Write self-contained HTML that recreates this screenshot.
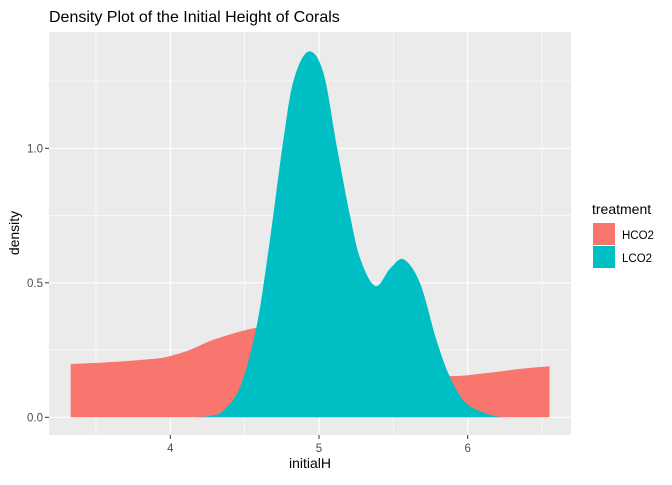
<!DOCTYPE html>
<html><head><meta charset="utf-8"><style>
body{margin:0;background:#fff;}
svg text{font-family:"Liberation Sans",sans-serif;}
</style></head><body>
<svg id="chart" width="672" height="480">
<text x="49" y="22" font-size="16" fill="#000">Density Plot of the Initial Height of Corals</text>
<rect x="49" y="32" width="522" height="403" fill="#ebebeb"/>
<g id="grid"></g>
<g id="areas"></g>
<g id="axes"></g>
<text x="310" y="468" font-size="14" text-anchor="middle" fill="#000">initialH</text>
<text transform="translate(19,233) rotate(-90)" font-size="14" text-anchor="middle" fill="#000">density</text>
<g>
<text x="592" y="214" font-size="14" fill="#000">treatment</text>
<rect x="593" y="223" width="22" height="22" fill="#f8766d"/>
<text x="622" y="239" font-size="11.5" fill="#000">HCO2</text>
<rect x="593" y="246" width="22" height="22" fill="#00bfc4"/>
<text x="622" y="262" font-size="11.5" fill="#000">LCO2</text>
</g>
</svg>
<script>
const xTicks=[4,5,6];
const yTicks=[0.0,0.5,1.0];
const yTickLabels=["0.0","0.5","1.0"];
const hcoX=[3.33,3.6,3.9,4.0,4.13,4.3,4.57,4.8,5.0,5.2,5.4,5.6,5.88,6.15,6.35,6.55];
const hcoY=[0.198,0.205,0.218,0.228,0.25,0.29,0.332,0.34,0.32,0.28,0.22,0.17,0.153,0.166,0.18,0.19];
const lcoX=[4.17,4.28,4.36,4.47,4.58,4.67,4.76,4.83,4.93,5.03,5.12,5.21,5.28,5.38,5.48,5.57,5.68,5.79,5.88,5.99,6.15,6.25];
const lcoY=[0,0.006,0.027,0.114,0.337,0.66,1.03,1.254,1.36,1.28,1.006,0.746,0.585,0.488,0.554,0.587,0.498,0.287,0.151,0.052,0.009,0];
const sx=v=>170.3+(v-4)*148.7;
const sy=v=>417.3-v*269;
const NS="http://www.w3.org/2000/svg";
function mk(t,a,p){const e=document.createElementNS(NS,t);for(const k in a)e.setAttribute(k,a[k]);p.appendChild(e);return e;}
const grid=document.getElementById('grid');
[3.5,4.5,5.5,6.5].forEach(v=>{const l=mk('line',{x1:sx(v),x2:sx(v),y1:32,y2:435,stroke:'#fff','stroke-width':0.6},grid);

});
[0.25,0.75,1.25].forEach(v=>{const l=mk('line',{x1:49,x2:571,y1:sy(v),y2:sy(v),stroke:'#fff','stroke-width':0.6},grid);

});
xTicks.forEach(v=>{const l=mk('line',{x1:sx(v),x2:sx(v),y1:32,y2:435,stroke:'#fff','stroke-width':1.2},grid);

});
yTicks.forEach(v=>{const l=mk('line',{x1:49,x2:571,y1:sy(v),y2:sy(v),stroke:'#fff','stroke-width':1.2},grid);

});
const areas=document.getElementById('areas');
function area(xs,ys,fill,name){
 const P=xs.map((x,i)=>[sx(x),sy(ys[i])]);
 let d='M'+P[0][0]+','+sy(0)+' L'+P[0][0]+','+P[0][1];
 for(let i=0;i<P.length-1;i++){
  const p0=P[i-1]||P[i],p1=P[i],p2=P[i+1],p3=P[i+2]||P[i+1];
  const c1=[p1[0]+(p2[0]-p0[0])/6,p1[1]+(p2[1]-p0[1])/6];
  const c2=[p2[0]-(p3[0]-p1[0])/6,p2[1]-(p3[1]-p1[1])/6];
  d+=' C'+c1[0]+','+Math.min(c1[1],sy(0))+' '+c2[0]+','+Math.min(c2[1],sy(0))+' '+p2[0]+','+p2[1];
 }
 d+=' L'+P[P.length-1][0]+','+sy(0)+' Z';
 const p=mk('path',{d:d,fill:fill},areas);
 
 
}
area(hcoX,hcoY,'#f8766d','hco2-density-area');
area(lcoX,lcoY,'#00bfc4','lco2-density-area');
const axes=document.getElementById('axes');
xTicks.forEach(v=>{const t=mk('line',{x1:sx(v),x2:sx(v),y1:435,y2:439,stroke:'#333','stroke-width':1},axes);


const l=mk('text',{x:sx(v),y:452,'font-size':11.5,'text-anchor':'middle',fill:'#4d4d4d'},axes);l.textContent=String(v);

});
yTicks.forEach((v,i)=>{const t=mk('line',{x1:45,x2:49,y1:sy(v),y2:sy(v),stroke:'#333','stroke-width':1},axes);


const l=mk('text',{x:43,y:sy(v)+4,'font-size':11.5,'text-anchor':'end',fill:'#4d4d4d'},axes);l.textContent=yTickLabels[i];

});
</script>
</body></html>
